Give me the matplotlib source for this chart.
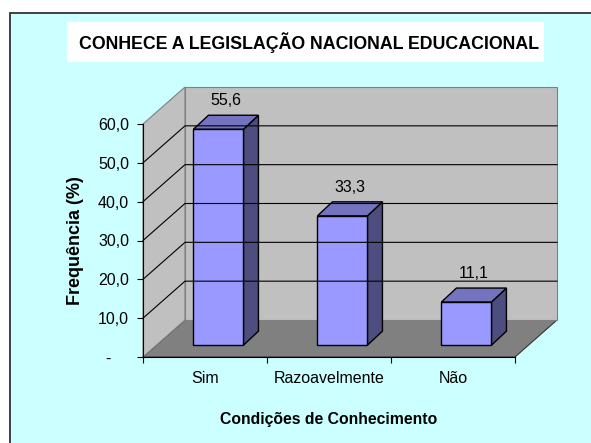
import numpy as np
import matplotlib.pyplot as plt
from matplotlib.patches import Polygon, Rectangle
from matplotlib.ticker import FuncFormatter

categories = ['Sim', 'Razoavelmente', 'Não']
values = [55.6, 33.3, 11.1]
y_ticks = [0, 10, 20, 30, 40, 50, 60]

title = 'CONHECE A LEGISLAÇÃO NACIONAL EDUCACIONAL'
x_title = 'Condições de Conhecimento'
y_title = 'Frequência (%)'

W, H = 591, 443
fig = plt.figure(figsize=(W / 100, H / 100), dpi=100)
fig.patch.set_facecolor('white')
plt.rcParams['font.family'] = ['Liberation Sans', 'DejaVu Sans']

# background panel + title box (pixel coords)
bg = fig.add_axes([0, 0, 1, 1])
bg.set_xlim(0, W)
bg.set_ylim(H, 0)
bg.axis('off')
bg.add_patch(Rectangle((9.5, 12.5), 600, 450, facecolor='#CCFFFF',
                       edgecolor='#333333', lw=1.3))
bg.add_patch(Rectangle((67, 22), 477, 40, facecolor='white', edgecolor='none'))
bg.text(309, 43, title, ha='center', va='center', fontsize=12.8, fontweight='bold')

# front plotting region of the 3d box
x0, x1 = 143, 515
yb, yt = 357, 124
ax = fig.add_axes([x0 / W, (H - yb) / H, (x1 - x0) / W, (yb - yt) / H])
ax.set_xlim(-0.5, 2.5)
ax.set_ylim(0, 60)
ax.patch.set_alpha(0)

px_x = (x1 - x0) / 3.0
px_y = (yb - yt) / 60.0
dx, dy = 42 / px_x, 37 / px_y          # depth of the box
bdx, bdy = 15 / px_x, 14 / px_y        # depth of a bar
fx, fy = 0.32 * dx, 0.32 * dy          # bar front position inside depth
bw = 50 / px_x

kw = dict(clip_on=False)
# floor
ax.add_patch(Polygon([(-0.5, 0), (2.5, 0), (2.5 + dx, dy), (-0.5 + dx, dy)],
                     facecolor='#808080', edgecolor='#333333', lw=0.8, **kw))
# left wall
ax.add_patch(Polygon([(-0.5, 0), (-0.5 + dx, dy), (-0.5 + dx, 60 + dy), (-0.5, 60)],
                     facecolor='#C0C0C0', edgecolor='#808080', lw=0.8, **kw))
# back wall
ax.add_patch(Polygon([(-0.5 + dx, dy), (2.5 + dx, dy), (2.5 + dx, 60 + dy), (-0.5 + dx, 60 + dy)],
                     facecolor='#C0C0C0', edgecolor='#808080', lw=0.8, **kw))
# gridlines
for v in y_ticks[1:-1]:
    ax.plot([-0.5, -0.5 + dx, 2.5 + dx], [v, v + dy, v + dy], color='black', lw=0.8, **kw)

# bars
for i, v in enumerate(values):
    xl = i + fx - bw / 2
    ax.add_patch(Polygon([(xl + bw, fy), (xl + bw + bdx, fy + bdy),
                          (xl + bw + bdx, fy + v + bdy), (xl + bw, fy + v)],
                         facecolor='#4D4D80', edgecolor='black', lw=1, **kw))
    ax.add_patch(Polygon([(xl, fy + v), (xl + bw, fy + v),
                          (xl + bw + bdx, fy + v + bdy), (xl + bdx, fy + v + bdy)],
                         facecolor='#7373C0', edgecolor='black', lw=1, **kw))
    ax.add_patch(Rectangle((xl, fy), bw, v, facecolor='#9999FF',
                           edgecolor='black', lw=1, **kw))
    ax.annotate(f'{v:.1f}'.replace('.', ','), (xl + (bw + bdx) / 2, fy + v + bdy),
                xytext=(0, 5), textcoords='offset points', ha='center', va='bottom',
                fontsize=11.5, annotation_clip=False)

for s in ['top', 'right']:
    ax.spines[s].set_visible(False)
ax.spines['left'].set_color('black')
ax.spines['bottom'].set_color('black')
ax.spines['left'].set_zorder(5)
ax.spines['bottom'].set_zorder(5)

ax.set_yticks(y_ticks)
ax.yaxis.set_major_formatter(FuncFormatter(
    lambda v, p: '-    ' if v == 0 else f'{v:.1f}'.replace('.', ',')))
ax.tick_params(axis='y', length=4, width=0.8, pad=6, labelsize=11.5)

ax.set_xticks([-0.5, 0.5, 1.5, 2.5])
ax.set_xticklabels([])
ax.set_xticks(range(len(categories)), minor=True)
ax.set_xticklabels(categories, minor=True)
ax.tick_params(axis='x', which='major', length=4, width=0.8)
ax.tick_params(axis='x', which='minor', length=0, pad=10, labelsize=11.5)

ax.set_xlabel(x_title, fontsize=11.3, fontweight='bold', labelpad=19)
ax.set_ylabel(y_title, fontsize=13, fontweight='bold', labelpad=10)

fig.savefig('out.png', dpi=100)
